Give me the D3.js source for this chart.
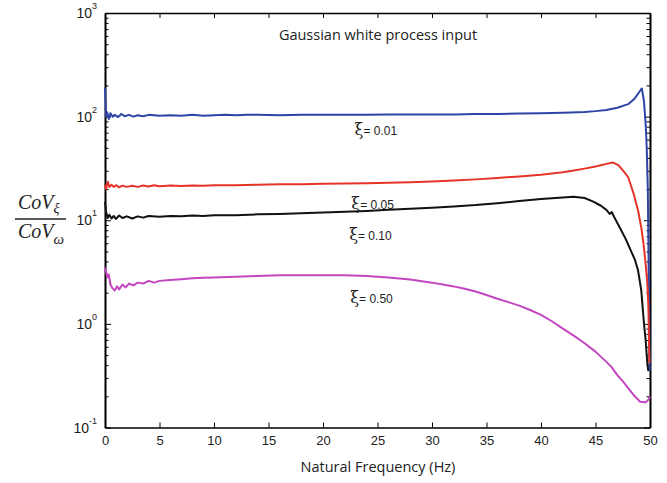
<!DOCTYPE html>
<html>
<head>
<meta charset="utf-8">
<script src="https://cdn.jsdelivr.net/npm/d3@7"></script>
<style>
  body { margin: 0; background: #fff; }
  .axis path, .axis line { stroke: #000; }
  .axis text { font-family: "Liberation Sans", Arial, sans-serif; font-size: 13px; fill: #222; }
</style>
</head>
<body>
<div id="chart"></div>
<script>
var width = 667,
    height = 483;

// frequency (Hz) / CoV ratio for each damping ratio
var freq001 = [0, 0.1, 0.2, 0.35, 0.5, 0.7, 0.9, 1.2, 1.5, 1.8, 2.2, 2.6, 3, 3.5, 4, 5, 6, 7, 8, 9, 10, 11, 12, 13, 14, 16, 18, 20, 22, 24, 26, 28, 30, 32, 34, 36, 38, 40, 42, 44, 45, 46, 47, 48, 48.6, 49.0, 49.25, 49.45, 49.6, 49.7, 49.8, 49.9, 49.97];
var cov001  = [190, 100, 110, 95, 108, 100, 104, 99, 106, 101, 104, 100, 103, 101, 104, 102, 103, 102, 104, 102, 103, 104, 103, 104, 104, 103, 104, 104, 104, 104, 105, 105, 105, 105, 106, 106, 107, 108, 109, 111, 113, 116, 122, 132, 150, 172, 187, 140, 85, 50, 20, 2, 0.35];

var freq005 = [0, 0.1, 0.25, 0.4, 0.6, 0.8, 1.0, 1.3, 1.6, 2, 2.5, 3, 3.5, 4, 4.5, 5, 6, 7, 8, 9, 10, 12, 14, 16, 18, 20, 22, 24, 26, 28, 30, 32, 34, 36, 38, 40, 42, 43, 44, 45, 46, 46.6, 47.1, 47.6, 48.0, 48.5, 48.9, 49.2, 49.4, 49.6, 49.75, 49.85, 49.95];
var cov005  = [22, 20, 23.5, 21, 22, 21, 21.8, 20.8, 21.6, 21, 21.5, 21, 21.6, 21.2, 21.8, 21.3, 21.6, 21.4, 21.7, 21.5, 21.8, 21.8, 22, 22.2, 22.3, 22.5, 22.6, 22.8, 23, 23.3, 23.7, 24.2, 24.8, 25.6, 26.5, 27.5, 29, 30.2, 31.5, 33, 35, 36, 34, 29.5, 26, 18, 12.5, 8.5, 6, 3.8, 2.5, 1.5, 0.42];

var freq010 = [0, 0.1, 0.25, 0.4, 0.6, 0.8, 1.0, 1.3, 1.6, 2, 2.5, 3, 3.5, 4, 5, 6, 7, 8, 9, 10, 12, 14, 16, 18, 20, 22, 24, 26, 28, 30, 32, 34, 36, 38, 40, 41, 42, 43, 44, 44.8, 45.5, 46, 46.3, 46.5, 46.7, 47.2, 47.8, 48.2, 48.6, 48.9, 49.2, 49.45, 49.6, 49.75, 49.85];
var cov010  = [15, 12, 10.5, 11.3, 10.4, 11, 10.3, 11.1, 10.5, 10.9, 10.4, 10.9, 10.6, 11, 10.8, 11, 10.9, 11.1, 11, 11.2, 11.2, 11.4, 11.5, 11.7, 11.9, 12.1, 12.3, 12.6, 12.9, 13.2, 13.6, 14, 14.6, 15.3, 16, 16.3, 16.6, 16.9, 16.4, 15.1, 13.8, 12.6, 11.5, 12, 10.8, 8.6, 6.5, 5.2, 4.2, 3.3, 2.1, 1.0, 0.7, 0.42, 0.35];

var freq050 = [0, 0.1, 0.2, 0.35, 0.5, 0.7, 0.9, 1.1, 1.3, 1.6, 1.9, 2.2, 2.6, 3, 3.5, 4, 4.5, 5, 6, 7, 8, 9, 10, 12, 14, 16, 18, 20, 22, 24, 26, 28, 30, 31, 32, 33, 34, 35, 36, 37, 38, 39, 40, 41, 42, 43, 44, 45, 46, 46.5, 47, 47.5, 48, 48.6, 49.1, 49.6, 49.85, 50];
var cov050  = [3.5, 3.2, 2.8, 3.0, 2.4, 2.2, 2.1, 2.3, 2.15, 2.4, 2.25, 2.45, 2.35, 2.5, 2.45, 2.6, 2.5, 2.6, 2.65, 2.7, 2.75, 2.78, 2.8, 2.85, 2.9, 2.95, 2.95, 2.95, 2.95, 2.9, 2.8, 2.68, 2.5, 2.4, 2.3, 2.18, 2.05, 1.9, 1.75, 1.62, 1.5, 1.36, 1.22, 1.06, 0.9, 0.77, 0.65, 0.54, 0.43, 0.38, 0.32, 0.28, 0.24, 0.2, 0.177, 0.175, 0.185, 0.2];

var seriesNames = ["0.01", "0.05", "0.10", "0.50"];
var seriesColors = ["#2e45a8", "#e63328", "#111111", "#c346c0"];
var labelFreq = [22.9, 22.6, 22.4, 22.5];
var labelValue = [66, 12.8, 6.5, 1.6];

var xTicks = [0, 5, 10, 15, 20, 25, 30, 35, 40, 45, 50];
var yMajor = [0.1, 1, 10, 100, 1000];
var yExp = ["-1", "0", "1", "2", "3"];

var titleText = "Gaussian white process input";
var xLabel = "Natural Frequency (Hz)";

var x = d3.scaleLinear().domain([0, 50]).range([105, 650]);
var y = d3.scaleLog().domain([0.1, 1000]).range([427.5, 13]);

var svg = d3.select("#chart").append("svg")
  .attr("width", width)
  .attr("height", height);

var yMinor = [];
yMajor.slice(0, -1).forEach(function(d) {
  for (var k = 2; k < 10; k++) yMinor.push(d * k);
});

// axes
svg.append("g").attr("class", "axis")
  .attr("transform", "translate(0,427.5)")
  .call(d3.axisBottom(x).tickValues(xTicks).tickFormat(d3.format("d")).tickSize(-5).tickSizeOuter(0).tickPadding(8));

svg.append("g").attr("class", "axis")
  .attr("transform", "translate(0,13)")
  .call(d3.axisTop(x).tickValues(xTicks).tickFormat("").tickSize(-5).tickSizeOuter(0));

svg.append("g").attr("class", "axis")
  .attr("transform", "translate(105,0)")
  .call(d3.axisLeft(y).tickValues(yMajor).tickFormat("").tickSize(-6).tickSizeOuter(0));
svg.append("g").attr("class", "axis")
  .attr("transform", "translate(105,0)")
  .call(d3.axisLeft(y).tickValues(yMinor).tickFormat("").tickSize(-3.5).tickSizeOuter(0));
svg.append("g").attr("class", "axis")
  .attr("transform", "translate(650,0)")
  .call(d3.axisRight(y).tickValues(yMajor).tickFormat("").tickSize(-6).tickSizeOuter(0));
svg.append("g").attr("class", "axis")
  .attr("transform", "translate(650,0)")
  .call(d3.axisRight(y).tickValues(yMinor).tickFormat("").tickSize(-3.5).tickSizeOuter(0));

svg.selectAll(".axis path.domain").attr("stroke-width", 1.6);

// y tick labels 10^n
var ylab = svg.append("g")
  .style("font-family", "Liberation Sans, Arial, sans-serif")
  .attr("fill", "#222");
yMajor.forEach(function(d, i) {
  var t = ylab.append("text")
    .attr("x", 97)
    .attr("y", y(d) + 5)
    .attr("text-anchor", "end")
    .attr("font-size", 14);
  t.append("tspan").text("10");
  t.append("tspan").attr("dy", -9).attr("font-size", 9).text(yExp[i]);
});

// curves
var allFreq = [freq001, freq005, freq010, freq050];
var allCov = [cov001, cov005, cov010, cov050];

var line = d3.line()
  .x(function(d) { return x(d[0]); })
  .y(function(d) { return y(d[1]); });

var g = svg.append("g");
allFreq.forEach(function(f, i) {
  var pts = f.map(function(v, j) { return [v, allCov[i][j]]; });
  g.append("path")
    .datum(pts)
    .attr("d", line)
    .attr("fill", "none")
    .attr("stroke", seriesColors[i])
    .attr("stroke-width", 2)
    .attr("stroke-linejoin", "round");
});

// damping labels
seriesNames.forEach(function(s, i) {
  var t = svg.append("text")
    .attr("x", x(labelFreq[i]))
    .attr("y", y(labelValue[i]))
    .attr("fill", "#222");
  t.append("tspan")
    .style("font-family", "DejaVu Serif, serif")
    .attr("font-size", 16)
    .text("ξ");
  t.append("tspan")
    .style("font-family", "Liberation Sans, Arial, sans-serif")
    .attr("font-size", 12)
    .text("= " + s);
});

// title and x label
svg.append("text")
  .attr("x", 378).attr("y", 40)
  .attr("text-anchor", "middle")
  .style("font-family", "Open Sans, sans-serif")
  .attr("font-size", 14.5)
  .attr("fill", "#222")
  .text(titleText);

svg.append("text")
  .attr("x", 378).attr("y", 472)
  .attr("text-anchor", "middle")
  .style("font-family", "Open Sans, sans-serif")
  .attr("font-size", 14.5)
  .attr("fill", "#222")
  .text(xLabel);

// y label as a fraction CoV_xi / CoV_omega
var yl2 = svg.append("g")
  .style("font-family", "Liberation Serif, Times New Roman, serif")
  .style("font-style", "italic")
  .attr("fill", "#222");
var num = yl2.append("text").attr("x", 18).attr("y", 209).attr("font-size", 20);
num.append("tspan").text("CoV");
num.append("tspan").attr("dy", 4).attr("font-size", 14).text("ξ");
yl2.append("line")
  .attr("x1", 15).attr("x2", 66)
  .attr("y1", 219).attr("y2", 219)
  .attr("stroke", "#222").attr("stroke-width", 1.5);
var den = yl2.append("text").attr("x", 18).attr("y", 238).attr("font-size", 20);
den.append("tspan").text("CoV");
den.append("tspan").attr("dy", 6).attr("font-size", 15).text("ω");
</script>
</body>
</html>
